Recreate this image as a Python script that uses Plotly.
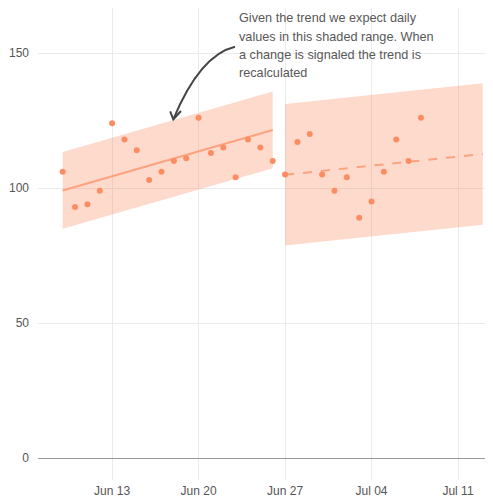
import plotly.graph_objects as go
import pandas as pd

# ---- data ----
dates = pd.date_range("2021-06-09", "2021-07-08", freq="D")
values = [106, 93, 94, 99, 124, 118, 114, 103, 106, 110, 111, 126, 113, 115, 104, 118, 115, 110,
          105, 117, 120, 105, 99, 104, 89, 95, 106, 118, 110, 126]

seg1_dates = ["2021-06-09", "2021-06-26"]
seg1_trend = [99.1, 121.5]
seg1_halfwidth = 14.2

seg2_dates = ["2021-06-27", "2021-07-13"]
seg2_trend = [104.9, 112.6]
seg2_halfwidth = 26.2

note_lines = ["Given the trend we expect daily",
              "values in this shaded range. When",
              "a change is signaled the trend is",
              "recalculated"]

POINT = "#fc8d62"
BAND = "rgba(252,141,98,0.32)"
LINE = "#fca27f"

fig = go.Figure()

def add_band(xs, trend, hw):
    upper = [v + hw for v in trend]
    lower = [v - hw for v in trend]
    fig.add_trace(go.Scatter(x=xs + xs[::-1], y=upper + lower[::-1], fill="toself",
                             fillcolor=BAND, line=dict(width=0), mode="lines",
                             hoverinfo="skip", showlegend=False))

add_band(seg1_dates, seg1_trend, seg1_halfwidth)
add_band(seg2_dates, seg2_trend, seg2_halfwidth)

fig.add_trace(go.Scatter(x=seg1_dates, y=seg1_trend, mode="lines",
                         line=dict(color=LINE, width=2), showlegend=False))
fig.add_trace(go.Scatter(x=seg2_dates, y=seg2_trend, mode="lines",
                         line=dict(color=LINE, width=2, dash="dash"), showlegend=False))

fig.add_trace(go.Scatter(x=dates, y=values, mode="markers",
                         marker=dict(color=POINT, size=6), showlegend=False))

# annotation background box
fig.add_shape(type="rect", xref="paper", yref="paper", x0=0.4264, x1=0.8857, y0=0.8369, y1=1.0,
              fillcolor="white", line=dict(width=0), layer="between")

line_y = [0.9781, 0.9392, 0.9004, 0.8616]
for txt, yy in zip(note_lines, line_y):
    fig.add_annotation(text=txt, xref="paper", yref="paper", x=0.4376,
                       y=yy, xanchor="left", yanchor="middle", showarrow=False,
                       font=dict(size=12.7, color="#585858"))

# curved arrow
fig.add_shape(type="path", xref="paper", yref="paper",
              path="M 0.4330 0.9180 Q 0.3560 0.9004 0.2974 0.7642",
              line=dict(color="#444444", width=2), layer="above")
fig.add_shape(type="path", xref="paper", yref="paper",
              path="M 0.2905 0.7812 L 0.2974 0.7642 L 0.3143 0.7818",
              line=dict(color="#444444", width=2), layer="above")

fig.update_xaxes(range=["2021-06-07 00:00", "2021-07-13 20:00"], tick0="2021-06-13",
                 dtick=7 * 86400000, tickformat="%b %d", showgrid=True, gridcolor="#ebebeb",
                 gridwidth=1, zeroline=False, showline=False, ticks="", automargin=False,
                 ticklabelstandoff=2, tickfont=dict(size=12, color="#555555"))
fig.update_yaxes(range=[-8.15, 166.67], tickvals=[0, 50, 100, 150], showgrid=True,
                 gridcolor="#ebebeb", gridwidth=1, zeroline=True, zerolinecolor="#9a9a9a",
                 zerolinewidth=1, showline=False, ticks="", ticklabelstandoff=8,
                 automargin=False, tickfont=dict(size=12, color="#555555"))

fig.update_layout(width=485, height=491, margin=dict(l=30, r=0, t=0, b=19, autoexpand=False),
                  plot_bgcolor="white", paper_bgcolor="white",
                  font=dict(family="Liberation Sans, Arial, sans-serif"))

fig.write_html("out.html")
